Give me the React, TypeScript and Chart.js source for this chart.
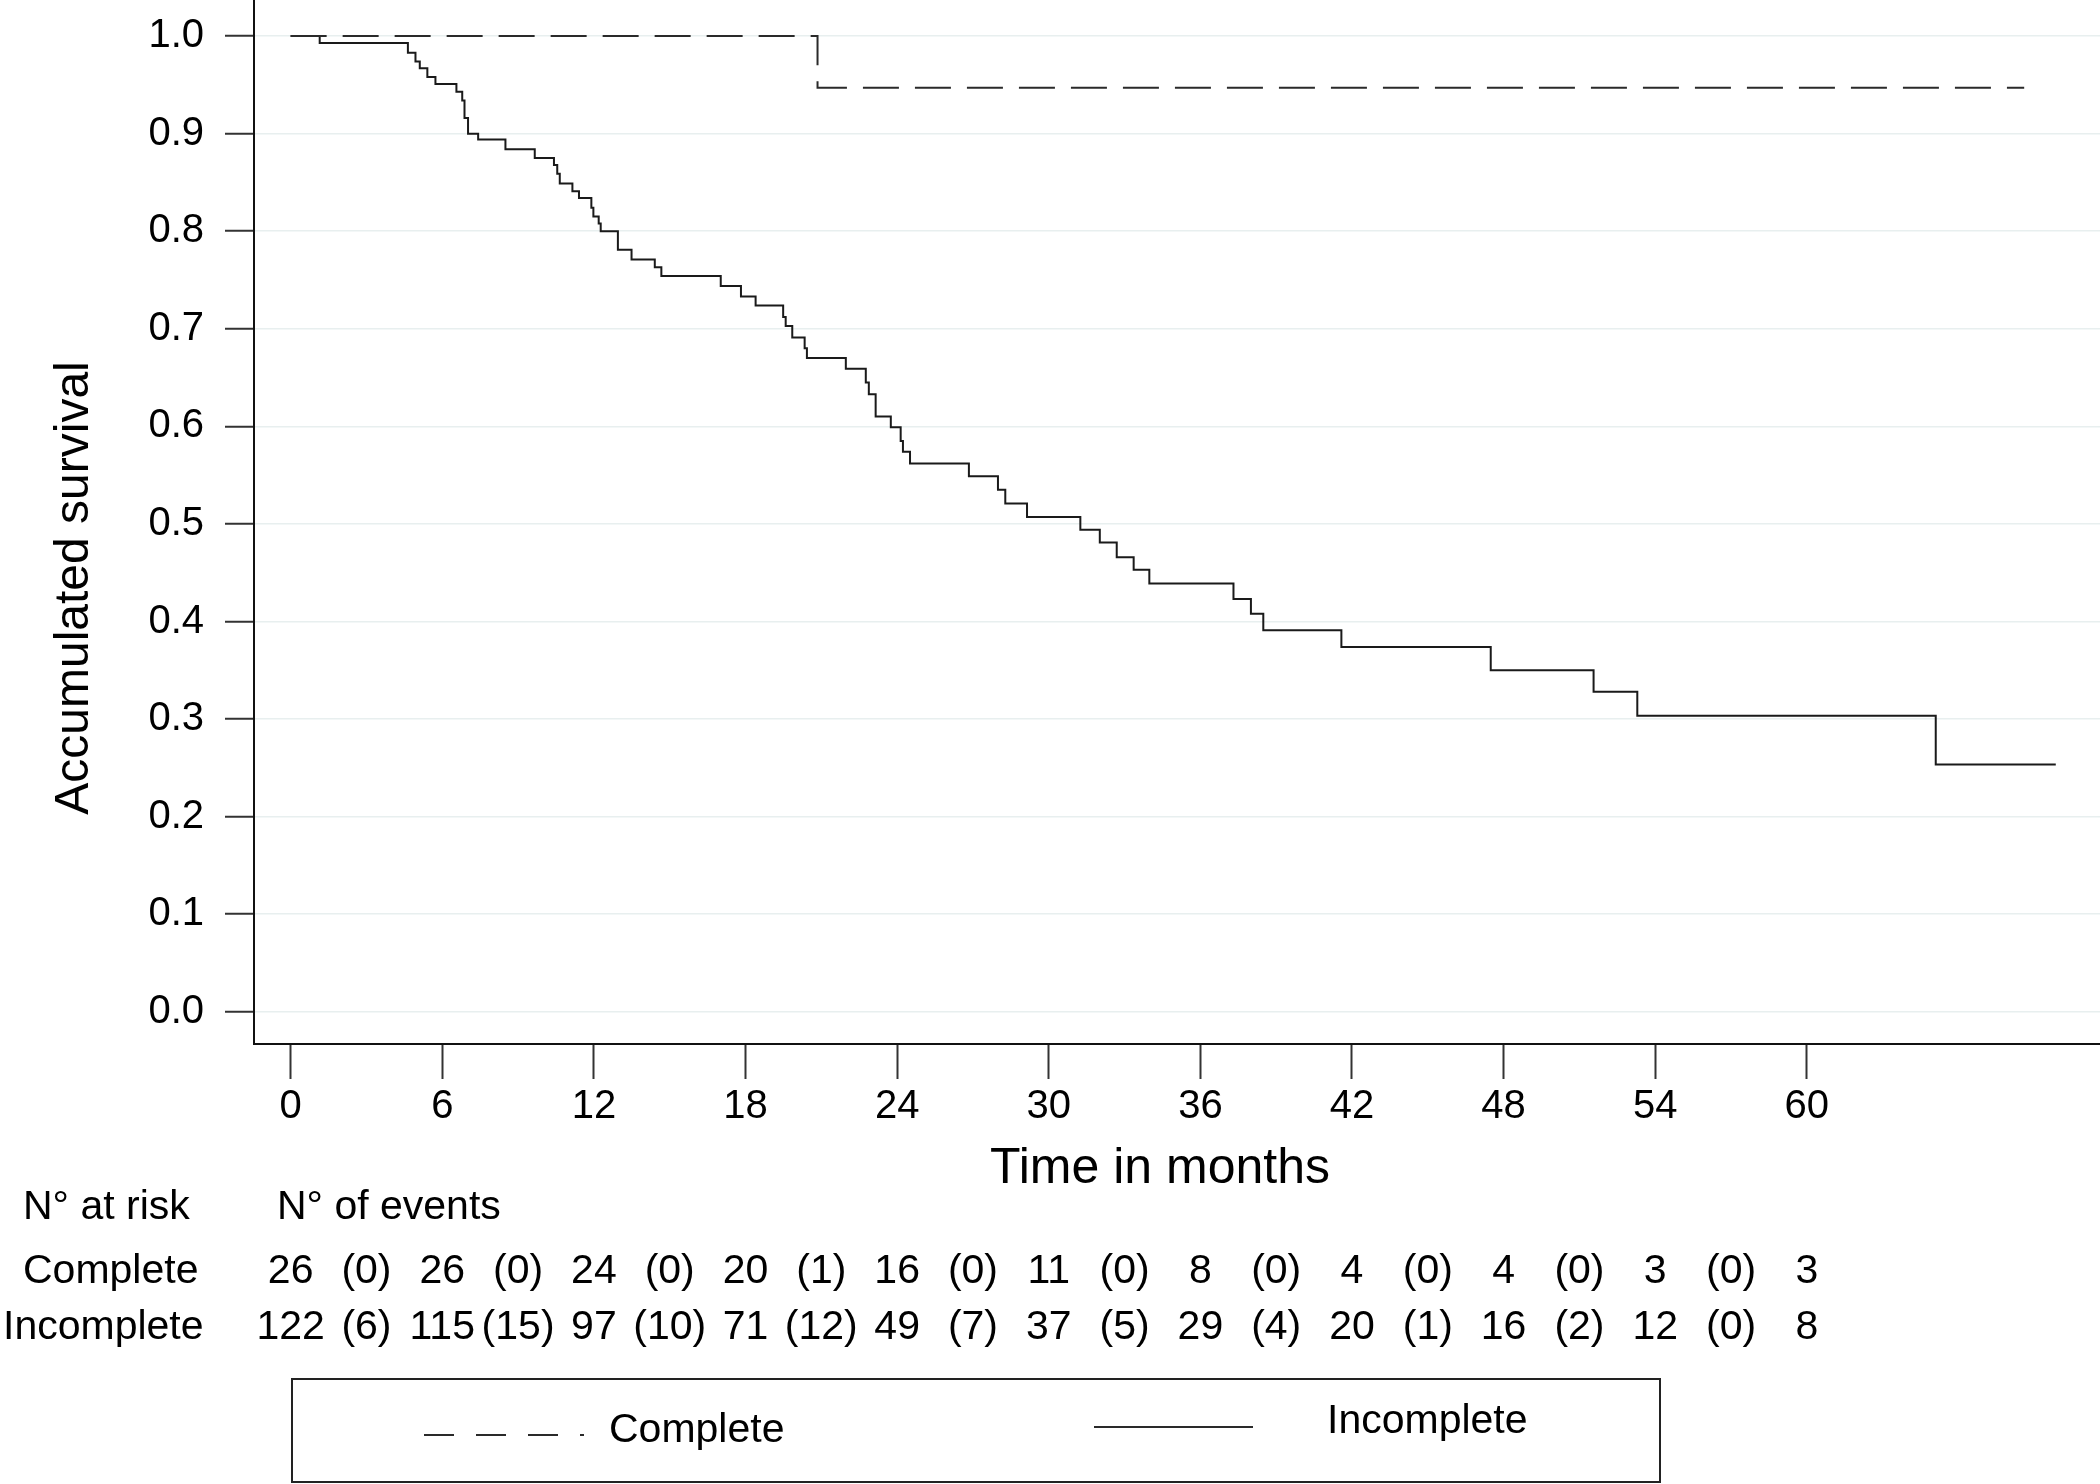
import { useEffect, useRef } from "react";
import { Chart, registerables } from "chart.js";
Chart.register(...registerables);

const W = 2100;
const H = 1484;

// Kaplan-Meier curves (time in months, accumulated survival)
const completeTimes = [0, 20.85, 68.6];
const completeSurv = [1.0, 0.947, 0.947];

const incompleteTimes = [
  0, 1.15, 4.64, 4.94, 5.11, 5.41, 5.73, 6.56, 6.79, 6.88, 7.02, 7.42, 8.5, 9.66, 10.42, 10.55,
  10.65, 11.15, 11.41, 11.9, 11.98, 12.19, 12.27, 12.95, 13.49, 14.41, 14.67, 17.02, 17.82, 18.4,
  19.49, 19.59, 19.85, 20.34, 20.43, 21.97, 22.76, 22.88, 23.15, 23.75, 24.14, 24.23, 24.51, 26.84,
  27.99, 28.28, 29.14, 31.25, 32.02, 32.69, 33.36, 33.98, 37.31, 38.0, 38.49, 41.58, 47.49, 51.56,
  53.29, 65.1, 69.85,
];
const incompleteSurv = [
  1.0, 0.993, 0.983, 0.974, 0.967, 0.958, 0.951, 0.943, 0.934, 0.916, 0.9, 0.894, 0.884, 0.875,
  0.868, 0.859, 0.849, 0.841, 0.834, 0.824, 0.815, 0.808, 0.8, 0.781, 0.771, 0.763, 0.754, 0.744,
  0.733, 0.724, 0.712, 0.703, 0.691, 0.68, 0.67, 0.659, 0.645, 0.633, 0.61, 0.599, 0.585, 0.574,
  0.562, 0.549, 0.535, 0.521, 0.507, 0.494, 0.481, 0.466, 0.453, 0.439, 0.423, 0.408, 0.391, 0.374,
  0.35, 0.328, 0.3035, 0.2535, 0.2535,
];

// Axes
const xTicks = [0, 6, 12, 18, 24, 30, 36, 42, 48, 54, 60];
const yTicks = [0, 0.1, 0.2, 0.3, 0.4, 0.5, 0.6, 0.7, 0.8, 0.9, 1.0];
const xMin = -1.45;
const xMax = 71.6;
const yMin = -0.033;
const yMax = 1.037;

// Risk table
const riskTimes = [0, 6, 12, 18, 24, 30, 36, 42, 48, 54, 60];
const completeAtRisk = [26, 26, 24, 20, 16, 11, 8, 4, 4, 3, 3];
const completeEvents = [0, 0, 0, 1, 0, 0, 0, 0, 0, 0];
const incompleteAtRisk = [122, 115, 97, 71, 49, 37, 29, 20, 16, 12, 8];
const incompleteEvents = [6, 15, 10, 12, 7, 5, 4, 1, 2, 0];

const FONT = '"Liberation Sans", Arial, Helvetica, sans-serif';

export default function App() {
  const ref = useRef<HTMLCanvasElement>(null);

  useEffect(() => {
    document.body.style.margin = "0";
    const canvas = ref.current;
    if (!canvas) return;

    const extras = {
      id: "extras",
      afterDraw(chart: any) {
        const ctx = chart.ctx as CanvasRenderingContext2D;
        const xs = chart.scales.x;
        ctx.save();
        ctx.fillStyle = "#000";

        // Y title
        ctx.save();
        ctx.translate(75, 588);
        ctx.rotate(-Math.PI / 2);
        ctx.font = `48px ${FONT}`;
        ctx.textAlign = "center";
        ctx.textBaseline = "middle";
        ctx.fillText("Accumulated survival", 0, 0);
        ctx.restore();

        // X title
        ctx.font = `50px ${FONT}`;
        ctx.textAlign = "center";
        ctx.textBaseline = "middle";
        ctx.fillText("Time in months", 1160, 1169);

        // Risk table
        ctx.font = `41px ${FONT}`;
        ctx.textAlign = "left";
        ctx.fillText("N\u00B0 at risk", 23, 1208);
        ctx.fillText("N\u00B0 of events", 277, 1208);
        ctx.fillText("Complete", 23, 1272);
        ctx.fillText("Incomplete", 3, 1328);

        ctx.textAlign = "center";
        riskTimes.forEach((t, i) => {
          const px = xs.getPixelForValue(t);
          ctx.fillText(String(completeAtRisk[i]), px, 1272);
          ctx.fillText(String(incompleteAtRisk[i]), px, 1328);
          if (i < completeEvents.length) {
            const pe = xs.getPixelForValue(t + 3);
            ctx.fillText(`(${completeEvents[i]})`, pe, 1272);
            ctx.fillText(`(${incompleteEvents[i]})`, pe, 1328);
          }
        });

        // Legend box
        ctx.strokeStyle = "#222";
        ctx.lineWidth = 2;
        ctx.strokeRect(292, 1379, 1368, 103);

        ctx.strokeStyle = "#2a2a2a";
        ctx.setLineDash([30, 22]);
        ctx.beginPath();
        ctx.moveTo(424, 1435);
        ctx.lineTo(584, 1435);
        ctx.stroke();
        ctx.setLineDash([]);
        ctx.beginPath();
        ctx.moveTo(1094, 1427);
        ctx.lineTo(1253, 1427);
        ctx.stroke();

        ctx.textAlign = "left";
        ctx.fillText("Complete", 609, 1431);
        ctx.fillText("Incomplete", 1327, 1422);
        ctx.restore();
      },
    };

    const chart = new Chart(canvas, {
      type: "line",
      data: {
        datasets: [
          {
            label: "Complete",
            data: completeTimes.map((t, i) => ({ x: t, y: completeSurv[i] })),
            borderColor: "#2a2a2a",
            borderWidth: 2,
            borderDash: [36, 16],
            stepped: "before",
            pointRadius: 0,
            fill: false,
          },
          {
            label: "Incomplete",
            data: incompleteTimes.map((t, i) => ({ x: t, y: incompleteSurv[i] })),
            borderColor: "#1a1a1a",
            borderWidth: 2,
            stepped: "before",
            pointRadius: 0,
            fill: false,
          },
        ],
      },
      options: {
        responsive: false,
        animation: false,
        devicePixelRatio: 1,
        layout: { padding: 0 },
        plugins: { legend: { display: false }, tooltip: { enabled: false } },
        scales: {
          x: {
            type: "linear",
            min: xMin,
            max: xMax,
            afterBuildTicks: (s: any) => {
              s.ticks = xTicks.map((v) => ({ value: v }));
            },
            afterFit: (s: any) => {
              s.height = 440;
              s.paddingLeft = 0;
              s.paddingRight = 0;
            },
            grid: { drawOnChartArea: false, tickLength: 35, tickColor: "#333", tickWidth: 2 },
            border: { color: "#111", width: 2 },
            ticks: {
              font: { size: 40, family: FONT },
              color: "#000",
              padding: 4,
              maxRotation: 0,
              autoSkip: false,
              callback: (v: any) => String(v),
            },
          },
          y: {
            type: "linear",
            min: yMin,
            max: yMax,
            afterBuildTicks: (s: any) => {
              s.ticks = yTicks.map((v) => ({ value: v }));
            },
            afterFit: (s: any) => {
              s.width = 254;
              s.paddingTop = 0;
              s.paddingBottom = 0;
            },
            grid: {
              color: "#e8efef",
              lineWidth: 1.5,
              tickLength: 29,
              tickColor: "#333",
              tickWidth: 2,
            },
            border: { color: "#111", width: 2 },
            ticks: {
              font: { size: 40, family: FONT },
              color: "#000",
              padding: 21,
              autoSkip: false,
              callback: (v: any) => Number(v).toFixed(1),
            },
          },
        },
      },
      plugins: [extras],
    });

    return () => chart.destroy();
  }, []);

  return (
    <canvas
      ref={ref}
      width={W}
      height={H}
      style={{ display: "block", width: W, height: H }}
    />
  );
}
